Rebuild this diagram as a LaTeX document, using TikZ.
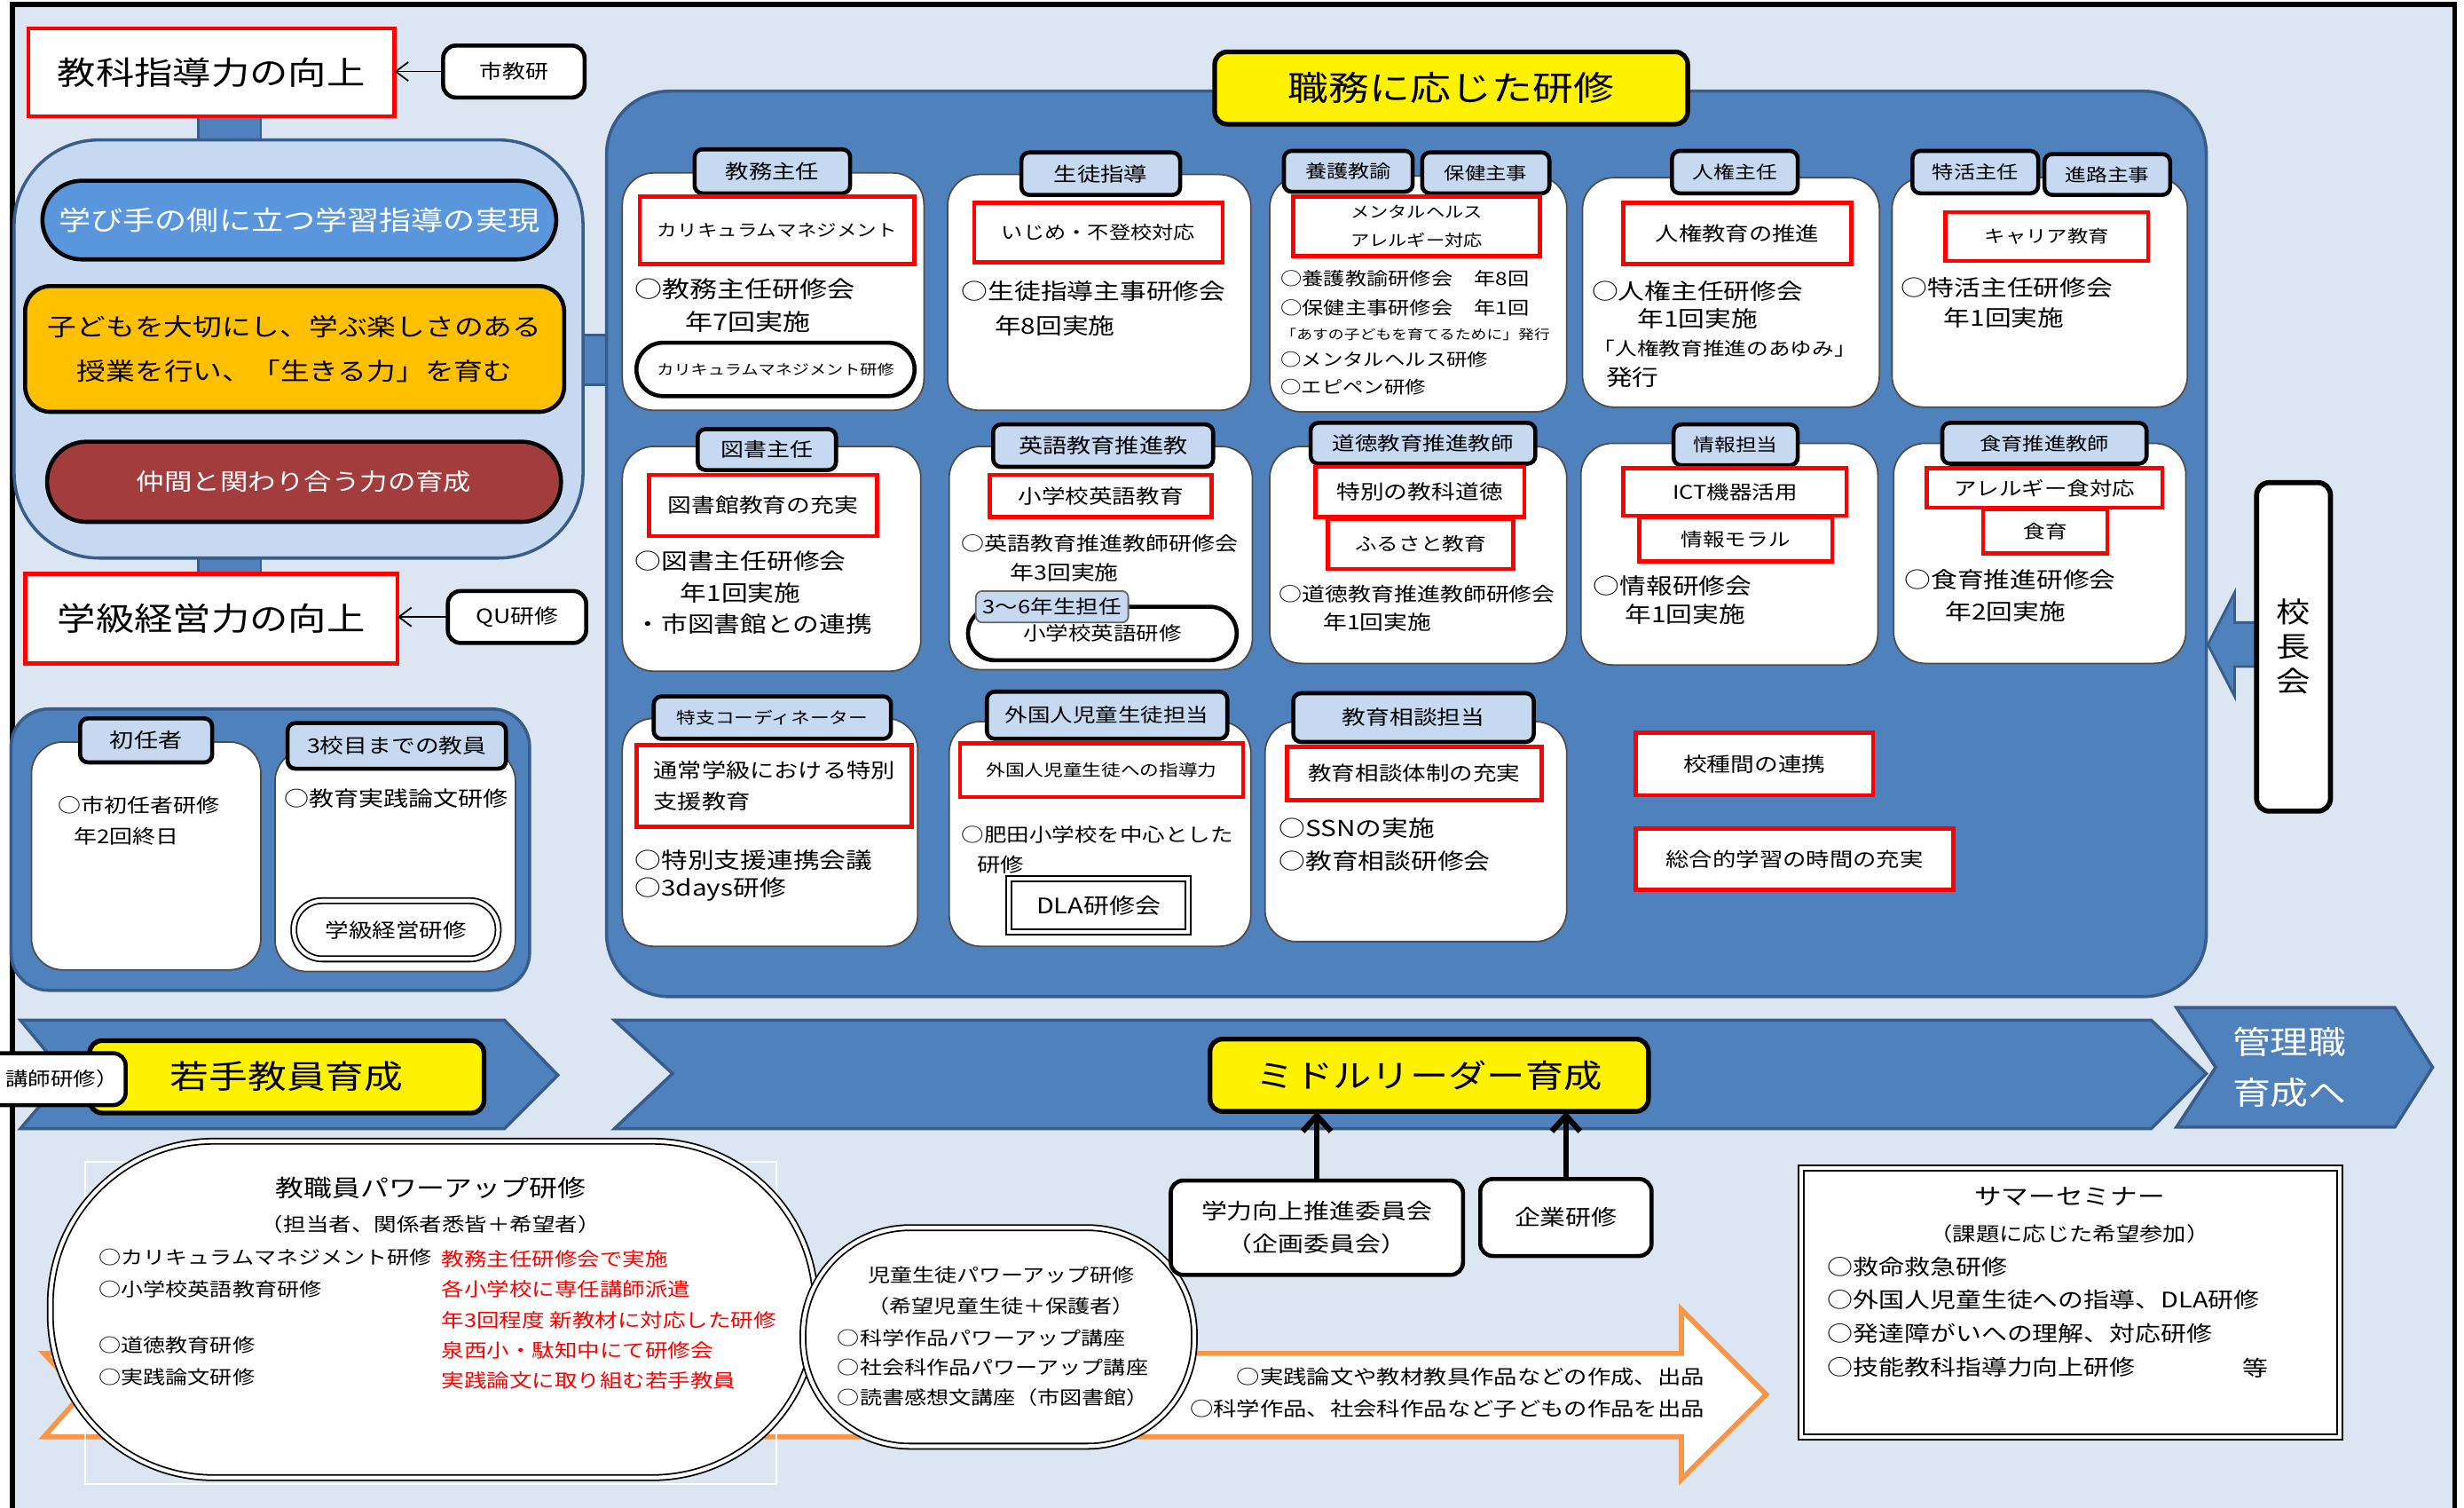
\documentclass[tikz,border=0pt]{standalone}
\usepackage{fontspec}
\setmainfont{Noto Sans CJK JP}[FakeStretch=1.2]
\usetikzlibrary{arrows.meta}
\definecolor{bg}{HTML}{DCE6F2}
\definecolor{mblue}{HTML}{4F81BD}
\definecolor{dblue}{HTML}{385D8A}
\definecolor{lblue}{HTML}{C6D9F1}
\definecolor{pblue}{HTML}{5A96DC}
\definecolor{gold}{HTML}{FFC000}
\definecolor{brick}{HTML}{A33D3D}
\definecolor{orng}{HTML}{F79646}
\newcommand\fs[1]{\fontsize{#1pt}{\dimexpr#1pt*13/10\relax}\selectfont}
\newcommand\fsb[2]{\fontsize{#1pt}{#2pt}\selectfont}
\newcommand\bx[7]{\node[#1,minimum width={(#5-#3)*0.5pt},minimum height={(#6-#4)*0.5pt}] (#2) at ({(#3+#5)/2},{(#4+#6)/2}) {#7};}
\tikzset{
 bxs/.style={inner sep=0.5pt, outer sep=0pt, align=center},
 redbox/.style={bxs, draw=red, line width=1.3pt, fill=white},
 tabbox/.style={bxs, draw=black, line width=1.3pt, fill=lblue, rounded corners=2.5pt},
 card/.style={bxs, draw=black!70, line width=0.5pt, fill=white, rounded corners=10pt},
 blk/.style={bxs, draw=black, line width=1.3pt, fill=white, rounded corners=4pt},
 pillw/.style={bxs, draw=black, line width=1.3pt, fill=white, rounded corners=8.5pt},
 dbl/.style={bxs, draw=black, double=white, double distance=1.2pt, line width=0.5pt, fill=white},
 yel/.style={bxs, draw=black, line width=1.5pt, fill=yellow, rounded corners=4pt},
 conn/.style={bxs, draw=dblue, line width=0.8pt, fill=mblue},
 chev/.style={fill=mblue, draw=dblue, line width=1pt},
 txt/.style={inner sep=0pt, outer sep=0pt, anchor=west},
 ctxt/.style={inner sep=0pt, outer sep=0pt, align=center},
}
\begin{document}
\begin{tikzpicture}[x=0.5pt,y=-0.5pt]
\useasboundingbox (0,0) rectangle (1568,959);
\fill[white] (0,0) rectangle (1568,959);
\draw[line width=1.6pt, fill=bg] (8,3) rectangle (1562,975);

% ---------- left upper panel ----------
\bx{conn}{c1}{126}{70}{166}{92}{}
\bx{conn}{c2}{126}{352}{166}{367}{}
\bx{conn}{c3}{366}{213}{392}{245}{}
\bx{bxs, draw=dblue, line width=1pt, fill=lblue, rounded corners=27pt}{lpanel}{9}{89}{371}{355}{}
\bx{pillw, fill=pblue, text=white, rounded corners=12.5pt, font=\fs{8.5}}{p1}{27}{115}{354}{165}{学び手の側に立つ学習指導の実現}
\bx{blk, fill=gold, rounded corners=8pt, font=\fsb{7.7}{14}}{p2}{16}{182}{359}{262}{子どもを大切にし、学ぶ楽しさのある\\授業を行い、「生きる力」を育む}
\bx{pillw, fill=brick, text=white, rounded corners=12.5pt, font=\fs{7.4}}{p3}{30}{281}{357}{332}{仲間と関わり合う力の育成}

\bx{redbox, font=\fs{10.2}}{kyoka}{18}{18}{251}{74}{教科指導力の向上}
\bx{blk, font=\fs{6.1}}{shikyo}{282}{29}{372}{62}{市教研}
\draw[line width=0.5pt,-{Straight Barb[length=4pt,width=6pt]}] (shikyo.west) -- (shikyo.west -| kyoka.east);
\bx{redbox, font=\fs{10.2}}{gakkyu}{16}{365}{253}{422}{学級経営力の向上}
\bx{blk, font=\fs{6.3}}{qu}{285}{376}{373}{409}{QU研修}
\draw[line width=0.5pt,-{Straight Barb[length=4pt,width=6pt]}] (qu.west) -- (qu.west -| gakkyu.east);

% ---------- left lower panel ----------
\bx{bxs, draw=dblue, line width=1pt, fill=mblue, rounded corners=12pt}{lbpanel}{7}{451}{337}{630}{}
\bx{card}{k1}{20}{472}{166}{617}{}
\bx{tabbox, font=\fs{6.4}}{k1tab}{51}{457}{135}{485}{初任者}
\node[txt, font=\fs{6.1}] (k1a) at (37,512) {○市初任者研修};
\node[txt, font=\fs{6.1}] (k1b) at (47,532) {年2回終日};
\bx{card}{k2}{175}{477}{328}{618}{}
\bx{tabbox, font=\fs{6.3}}{k2tab}{183}{460}{322}{489}{3校目までの教員}
\node[txt, font=\fs{6.6}] (k2a) at (181,508) {○教育実践論文研修};
\bx{dbl, rounded corners=9pt, font=\fs{6.25}}{k2p}{187}{573}{317}{610}{学級経営研修}

% ---------- main region ----------
\bx{bxs, draw=dblue, line width=1pt, fill=mblue, rounded corners=20pt}{mainreg}{386}{58}{1404}{634}{}
\bx{yel, font=\fs{10.8}}{title}{773}{33}{1074}{79}{職務に応じた研修}

% card A
\bx{card}{cA}{396}{110}{588}{261}{}
\bx{tabbox, font=\fs{6.2}}{tA}{442}{95}{541}{123}{教務主任}
\bx{redbox, font=\fs{5.3}}{rA}{407}{125}{582}{168}{カリキュラムマネジメント}
\node[txt, font=\fs{7.3}] (a1) at (404,184) {○教務主任研修会};
\node[txt, font=\fs{7.3}] (a2) at (436,205) {年7回実施};
\bx{pillw, font=\fs{4.5}}{pA}{405}{218}{582}{252}{カリキュラムマネジメント研修}
% card B
\bx{card}{cB}{603}{111}{796}{261}{}
\bx{tabbox, font=\fs{6.2}}{tB}{650}{97}{751}{124}{生徒指導}
\bx{redbox, font=\fs{5.7}}{rB}{620}{129}{778}{167}{いじめ・不登校対応}
\node[txt, font=\fs{7}] (b1) at (612,185) {○生徒指導主事研修会};
\node[txt, font=\fs{7}] (b2) at (633,207) {年8回実施};
% card C
\bx{card}{cC}{808}{112}{997}{262}{}
\bx{tabbox, font=\fs{5.7}}{tC1}{817}{96}{899}{122}{養護教諭}
\bx{tabbox, font=\fs{5.5}}{tC2}{905}{97}{986}{123}{保健主事}
\bx{redbox, font=\fsb{5}{9}}{rC}{823}{125}{980}{163}{メンタルヘルス\\アレルギー対応}
\node[txt, font=\fs{5.7}] (c1t) at (815,177) {○養護教諭研修会　年8回};
\node[txt, font=\fs{5.7}] (c2t) at (815,196) {○保健主事研修会　年1回};
\node[txt, font=\fs{4.2}] (c3t) at (815,213) {「あすの子どもを育てるために」発行};
\node[txt, font=\fs{5.5}] (c4t) at (815,229) {○メンタルヘルス研修};
\node[txt, font=\fs{5.5}] (c5t) at (815,246) {○エピペン研修};
% card D
\bx{card}{cD}{1007}{113}{1196}{259}{}
\bx{tabbox, font=\fs{5.6}}{tD}{1064}{96}{1144}{123}{人権主任}
\bx{redbox, font=\fs{6.2}}{rD}{1033}{129}{1178}{168}{人権教育の推進}
\node[txt, font=\fs{7}] (d1) at (1013,185) {○人権主任研修会};
\node[txt, font=\fs{7}] (d2) at (1042,203) {年1回実施};
\node[txt, font=\fs{5.8}] (d3) at (1014,222) {「人権教育推進のあゆみ」};
\node[txt, font=\fs{7}] (d4) at (1022,240) {発行};
% card E
\bx{card}{cE}{1204}{113}{1392}{259}{}
\bx{tabbox, font=\fs{5.7}}{tE1}{1217}{96}{1297}{123}{特活主任}
\bx{tabbox, font=\fs{5.6}}{tE2}{1301}{98}{1381}{124}{進路主事}
\bx{redbox, font=\fs{5.5}}{rE}{1238}{135}{1367}{166}{キャリア教育}
\node[txt, font=\fs{7}] (e1) at (1210,183) {○特活主任研修会};
\node[txt, font=\fs{7}] (e2) at (1237,202) {年1回実施};

% card F
\bx{card}{cF}{396}{284}{586}{427}{}
\bx{tabbox, font=\fs{6.1}}{tF}{444}{273}{532}{299}{図書主任}
\bx{redbox, font=\fs{6.3}}{rF}{413}{302}{558}{341}{図書館教育の充実}
\node[txt, font=\fs{7}] (f1) at (404,357) {○図書主任研修会};
\node[txt, font=\fs{7}] (f2) at (433,377) {年1回実施};
\node[txt, font=\fs{7}] (f3) at (404,397) {・市図書館との連携};
% card G
\bx{card}{cG}{604}{284}{797}{426}{}
\bx{tabbox, font=\fs{6.4}}{tG}{632}{270}{772}{297}{英語教育推進教}
\bx{redbox, font=\fs{6.25}}{rG}{630}{302}{771}{329}{小学校英語教育}
\node[txt, font=\fs{6.1}] (g1) at (612,346) {○英語教育推進教師研修会};
\node[txt, font=\fs{6.3}] (g2) at (643,364) {年3回実施};
\bx{pillw, font=\fs{6}}{pG}{616}{386}{787}{420}{\raisebox{-3pt}{小学校英語研修}}
\bx{bxs, fill=lblue, draw=black!60, line width=0.5pt, rounded corners=2pt, font=\fs{6}}{lG}{621}{376}{718}{396}{3〜6年生担任}
% card H
\bx{card}{cH}{808}{284}{997}{422}{}
\bx{tabbox, font=\fs{6}}{tH}{834}{269}{977}{295}{道徳教育推進教師}
\bx{redbox, font=\fs{6.3}}{rH1}{837}{297}{970}{329}{特別の教科道徳}
\bx{redbox, font=\fs{5.8}}{rH2}{845}{330}{963}{362}{ふるさと教育}
\node[txt, font=\fs{6.1}] (h1) at (814,378) {○道徳教育推進教師研修会};
\node[txt, font=\fs{6.3}] (h2) at (842,396) {年1回実施};
% card I
\bx{card}{cI}{1006}{282}{1195}{423}{}
\bx{tabbox, font=\fs{5.6}}{tI}{1065}{270}{1144}{296}{情報担当}
\bx{redbox, font=\fs{6}}{rI1}{1033}{298}{1175}{328}{ICT機器活用}
\bx{redbox, font=\fs{5.8}}{rI2}{1043}{329}{1166}{357}{情報モラル}
\node[txt, font=\fs{7}] (i1) at (1014,373) {○情報研修会};
\node[txt, font=\fs{7}] (i2) at (1034,391) {年1回実施};
% card J
\bx{card}{cJ}{1205}{282}{1391}{422}{}
\bx{tabbox, font=\fs{5.7}}{tJ}{1236}{269}{1366}{295}{食育推進教師}
\bx{redbox, font=\fs{6}}{rJ1}{1226}{298}{1376}{323}{アレルギー食対応}
\bx{redbox, font=\fs{5.8}}{rJ2}{1262}{324}{1341}{352}{食育}
\node[txt, font=\fs{7}] (j1) at (1212,369) {○食育推進研修会};
\node[txt, font=\fs{7}] (j2) at (1238,389) {年2回実施};

% card K
\bx{card}{cK}{396}{457}{584}{602}{}
\bx{tabbox, font=\fs{5.1}}{tK}{416}{443}{567}{470}{特支コーディネーター}
\bx{redbox}{rK}{405}{474}{580}{526}{}
\node[txt, font=\fs{6.4}] (k3a) at (416,490) {通常学級における特別};
\node[txt, font=\fs{6.4}] (k3b) at (416,510) {支援教育};
\node[txt, font=\fs{7}] (k3c) at (404,547) {○特別支援連携会議};
\node[txt, font=\fs{7}] (k3d) at (404,566) {○3days研修};
% card L
\bx{card}{cL}{604}{459}{796}{602}{}
\bx{tabbox, font=\fs{6}}{tL}{628}{440}{781}{470}{外国人児童生徒担当}
\bx{redbox, font=\fs{5.1}}{rL}{611}{473}{791}{507}{外国人児童生徒への指導力}
\node[txt, font=\fs{6}] (l1) at (612,531) {○肥田小学校を中心とした};
\node[txt, font=\fs{6.2}] (l2) at (622,550) {研修};
\bx{dbl, font=\fs{6.8}}{dla}{642}{559}{756}{593}{DLA研修会}
% card M
\bx{card}{cM}{805}{459}{997}{599}{}
\bx{tabbox, font=\fs{6.3}}{tM}{823}{441}{976}{472}{教育相談担当}
\bx{redbox, font=\fs{6.25}}{rM}{819}{475}{981}{509}{教育相談体制の充実}
\node[txt, font=\fs{7}] (m1) at (814,527) {○SSNの実施};
\node[txt, font=\fs{7}] (m2) at (814,548) {○教育相談研修会};

\bx{redbox, font=\fs{6.3}}{rN1}{1041}{466}{1192}{506}{校種間の連携}
\bx{redbox, font=\fs{6.2}}{rN2}{1041}{527}{1243}{566}{総合的学習の時間の充実}

% ---------- 校長会 ----------
\draw[fill=mblue, draw=dblue, line width=0.8pt] (1436,396) -- (1422,396) -- (1422,377) -- (1405,410) -- (1422,443) -- (1422,424) -- (1436,424) -- cycle;
\bx{blk, line width=1.6pt, font=\fsb{9}{11}}{kocho}{1436}{307}{1483}{516}{校\\長\\会}

% ---------- chevrons ----------
\draw[chev] (13,649) -- (321,649) -- (355,684) -- (321,718) -- (13,718) -- (42,684) -- cycle;
\draw[chev] (391,649) -- (1369,649) -- (1404,683) -- (1369,718) -- (391,718) -- (428,683) -- cycle;
\draw[chev] (1385,641) -- (1524,641) -- (1548,679) -- (1524,717) -- (1385,717) -- (1410,679) -- cycle;
\bx{yel, font=\fs{10.3}}{waka}{57}{662}{308}{708}{若手教員育成}
\bx{blk}{koshi}{-10}{670}{80}{703}{}
\node[anchor=east, inner sep=0pt, font=\fs{6}] (koshit) at (76,686) {講師研修）};
\bx{yel, font=\fs{10.2}}{middle}{770}{661}{1049}{707}{ミドルリーダー育成}
\node[ctxt, text=white, font=\fsb{10.1}{16}] (kanri) at (1457,679) {管理職\\育成へ};

% ---------- bottom ----------
\draw[draw=orng, fill=white, line width=1.6pt] (28,861) -- (1070,861) -- (1070,833) -- (1124,887) -- (1070,941) -- (1070,914) -- (28,914) -- (52,887) -- cycle;
\node[anchor=east, inner sep=0pt, font=\fs{6.2}] (ar1) at (1085,876) {○実践論文や教材教具作品などの作成、出品};
\node[anchor=east, inner sep=0pt, font=\fs{6.2}] (ar2) at (1085,896) {○科学作品、社会科作品など子どもの作品を出品};

\draw[white, line width=0.6pt] (54,739) rectangle (494,944);
\bx{dbl, rounded corners=52pt}{ovalA}{32}{726}{519}{940}{}
\node[ctxt, font=\fs{7.5}] (oa1) at (274,756) {教職員パワーアップ研修};
\node[ctxt, font=\fs{6}] (oa2) at (274,779) {（担当者、関係者悉皆＋希望者）};
\node[txt, font=\fs{5.9}] (oa3) at (63,800) {○カリキュラムマネジメント研修};
\node[txt, font=\fs{5.9}] (oa4) at (63,820) {○小学校英語教育研修};
\node[txt, font=\fs{5.9}] (oa5) at (63,856) {○道徳教育研修};
\node[txt, font=\fs{5.9}] (oa6) at (63,876) {○実践論文研修};
\node[txt, font=\fs{6}, text=red] (ob1) at (281,801) {教務主任研修会で実施};
\node[txt, font=\fs{6}, text=red] (ob2) at (281,820) {各小学校に専任講師派遣};
\node[txt, font=\fs{6}, text=red] (ob3) at (281,840) {年3回程度 新教材に対応した研修};
\node[txt, font=\fs{6}, text=red] (ob4) at (281,859) {泉西小・駄知中にて研修会};
\node[txt, font=\fs{6}, text=red] (ob5) at (281,878) {実践論文に取り組む若手教員};

\bx{dbl, rounded corners=34pt}{ovalB}{511}{781}{760}{920}{}
\node[ctxt, font=\fs{5.9}] (ov1) at (637,811) {児童生徒パワーアップ研修};
\node[ctxt, font=\fs{5.9}] (ov2) at (637,831) {（希望児童生徒＋保護者）};
\node[txt, font=\fs{5.9}] (ov3) at (533,851) {○科学作品パワーアップ講座};
\node[txt, font=\fs{5.9}] (ov4) at (533,870) {○社会科作品パワーアップ講座};
\node[txt, font=\fs{5.9}] (ov5) at (533,889) {○読書感想文講座（市図書館）};

\bx{blk, font=\fsb{6.8}{10.5}}{gakuryoku}{745}{751}{931}{811}{学力向上推進委員会\\（企画委員会）}
\bx{blk, font=\fs{6.8}}{kigyo}{942}{750}{1051}{799}{企業研修}
\draw[line width=1.8pt,-{Straight Barb[length=5pt,width=9pt]}] (gakuryoku.north) -- (gakuryoku.north |- middle.south);
\draw[line width=1.8pt,-{Straight Barb[length=5pt,width=9pt]}] (kigyo.north) -- (kigyo.north |- middle.south);

\bx{dbl}{summer}{1146}{743}{1489}{914}{}
\node[ctxt, font=\fs{7.2}] (s1) at (1317,761) {サマーセミナー};
\node[ctxt, font=\fs{6.2}] (s2) at (1317,785) {（課題に応じた希望参加）};
\node[txt, font=\fs{6.8}] (s3) at (1163,806) {○救命救急研修};
\node[txt, font=\fs{6.8}] (s4) at (1163,827) {○外国人児童生徒への指導、DLA研修};
\node[txt, font=\fs{6.8}] (s5) at (1163,848) {○発達障がいへの理解、対応研修};
\node[txt, font=\fs{6.8}] (s6) at (1163,870) {○技能教科指導力向上研修};
\node[ctxt, font=\fs{6.8}] (s7) at (1435,870) {等};
\end{tikzpicture}
\end{document}
